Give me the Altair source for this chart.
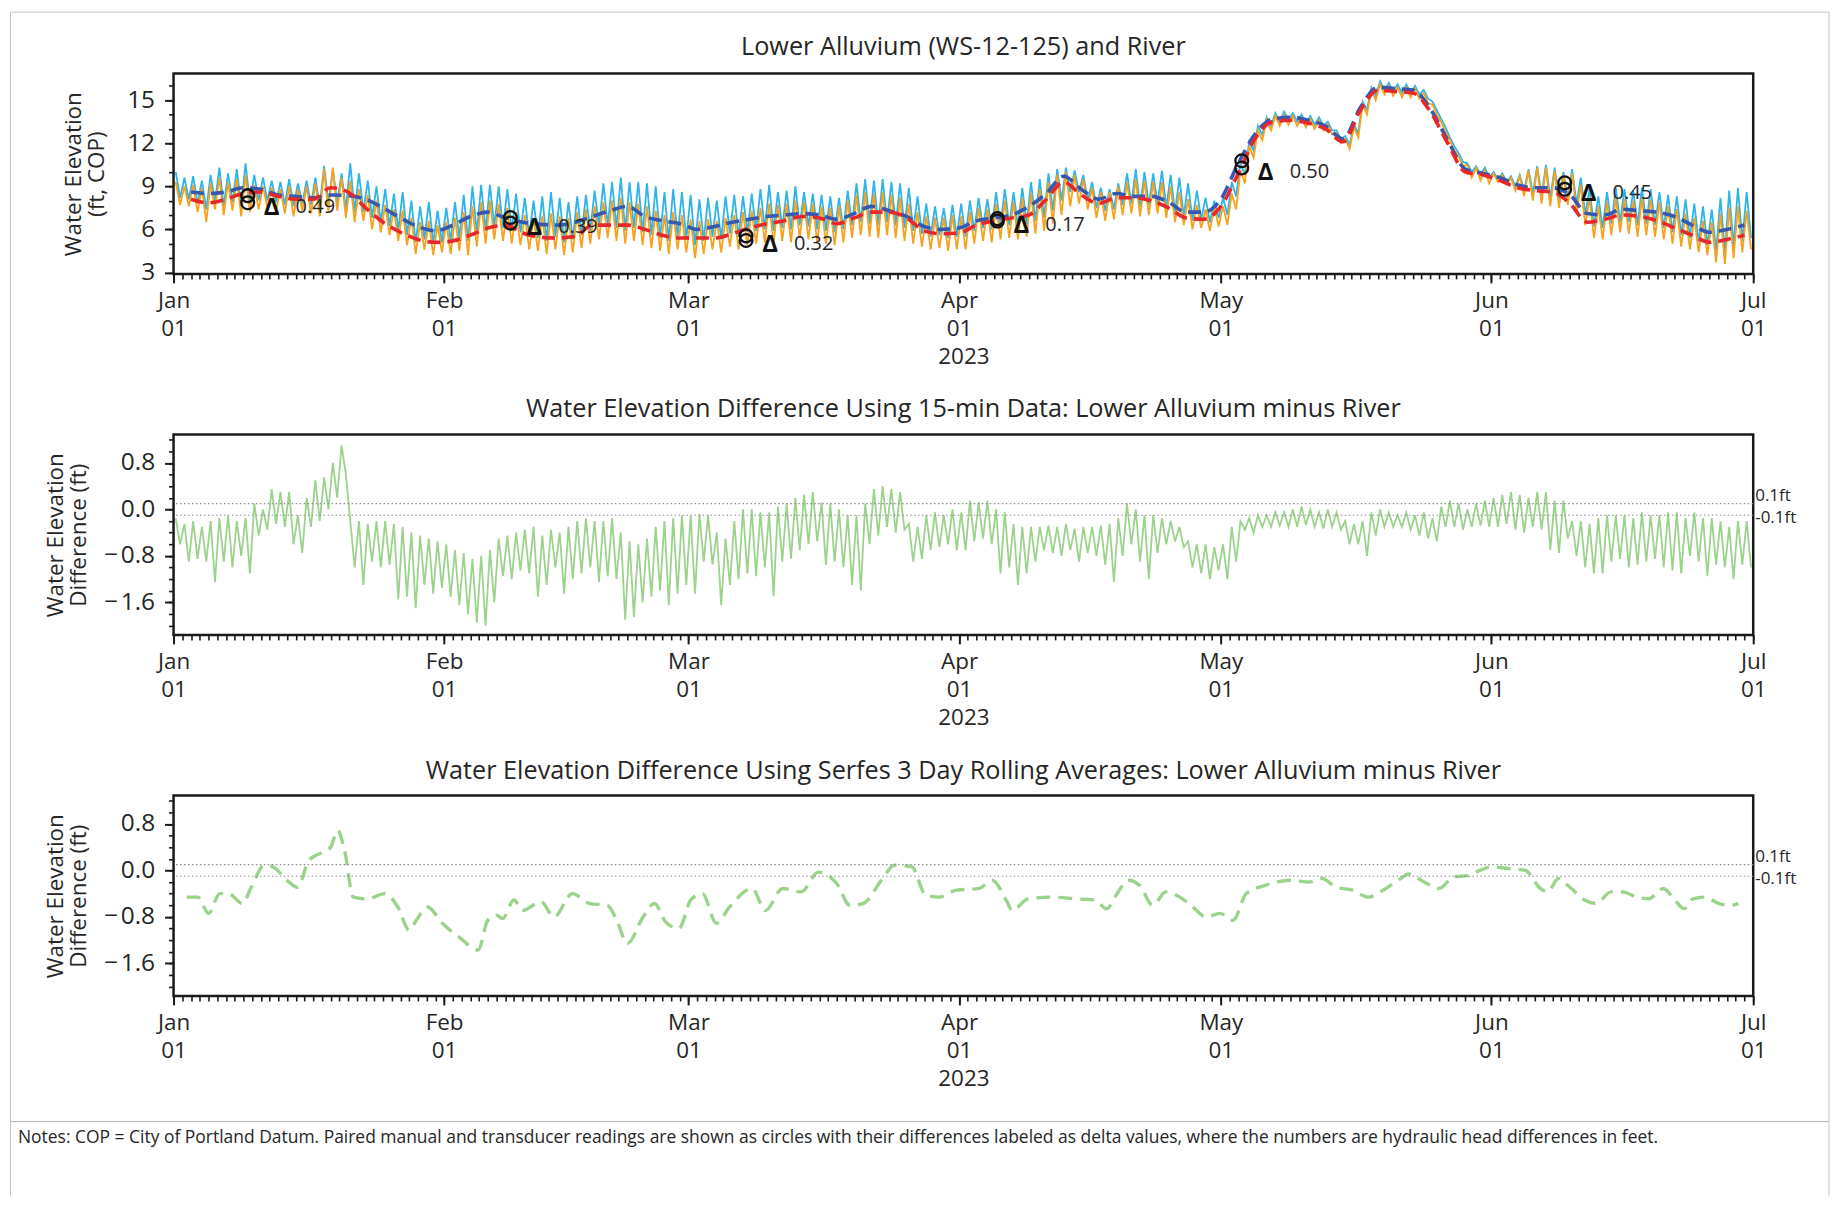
import json
import altair as alt
import pandas as pd

FONT = "Open Sans"
INK = "#262626"
FRAME = "#1a1a1a"
W, H = 1584, 201

MONTH_DAYS = [0, 31, 59, 90, 120, 151, 181]
MONTH_NAMES = ["Jan", "Feb", "Mar", "Apr", "May", "Jun", "Jul"]

# ---------------- Panel 1: 15-min envelopes (daily high / low), day 0 = Jan 1 ----------------
AL_HI = (
    [10.0, 9.6, 9.7, 9.4, 9.8, 10.3, 9.9, 10.2, 10.6, 9.8, 9.6, 9.4, 9.3, 9.5, 9.2, 9.4, 9.6, 10.4, 10.2, 9.9, 10.6, 9.9, 9.4, 9.0, 8.8, 8.5, 8.6, 8.0, 7.6, 7.9, 7.3]
    + [7.5, 7.9, 8.4, 9.0, 9.1, 9.1, 9.0, 8.8, 8.5, 8.2, 8.0, 8.3, 8.6, 8.2, 7.9, 8.3, 8.4, 8.7, 9.2, 9.3, 9.6, 9.3, 9.3, 9.2, 9.0, 8.6, 8.8, 8.6]
    + [8.4, 8.1, 8.2, 8.0, 8.3, 8.4, 8.3, 8.5, 8.8, 9.1, 8.6, 8.7, 9.0, 8.6, 8.5, 8.4, 8.3, 8.2, 8.7, 9.2, 9.5, 9.4, 9.5, 9.3, 9.2, 8.9, 8.3, 7.8, 7.6, 7.5, 7.7]
    + [7.8, 8.0, 8.2, 8.1, 8.6, 8.8, 8.6, 8.9, 9.3, 9.5, 9.9, 10.2, 10.3, 10.1, 9.8, 9.3, 8.9, 8.8, 9.2, 9.9, 10.2, 10.0, 9.9, 10.1, 9.8, 9.6, 9.2, 8.7, 8.2, 8.0]
    + [8.2, 9.3, 10.6, 12.1, 13.2, 13.8, 14.1, 14.2, 14.1, 14.0, 13.9, 13.8, 13.5, 12.9, 12.5, 13.3, 14.9, 15.9, 16.3, 16.2, 16.1, 16.1, 16.0, 15.7, 14.9, 13.7, 12.4, 11.3, 10.6, 10.4, 10.3]
    + [10.0, 9.9, 9.7, 9.8, 10.2, 10.4, 10.5, 10.3, 10.0, 10.2, 9.6, 8.8, 8.3, 8.6, 8.9, 8.8, 8.7, 8.9, 8.8, 8.6, 8.4, 8.3, 8.1, 7.8, 7.6, 7.4, 8.2, 8.7, 8.9, 8.6]
)
AL_LO = (
    [8.2, 8.1, 7.8, 7.4, 7.9, 7.6, 7.9, 7.6, 7.8, 8.0, 8.0, 7.9, 7.7, 7.6, 7.8, 7.7, 7.6, 7.8, 7.9, 7.4, 7.2, 7.2, 6.8, 6.5, 6.2, 5.9, 5.6, 5.1, 5.3, 5.0, 5.1]
    + [5.2, 5.4, 5.2, 5.7, 5.9, 6.2, 6.1, 5.9, 5.8, 5.5, 5.4, 5.2, 5.5, 5.1, 5.3, 5.6, 5.9, 6.2, 6.3, 6.1, 5.9, 6.1, 5.8, 5.6, 5.4, 5.2, 5.5, 5.3]
    + [4.9, 5.2, 5.5, 5.3, 5.7, 5.5, 5.8, 5.9, 6.0, 5.9, 6.1, 6.0, 6.3, 6.2, 6.0, 5.9, 5.8, 6.0, 6.3, 6.5, 6.4, 6.3, 6.5, 6.3, 6.1, 5.9, 5.7, 5.5, 5.6, 5.4, 5.5]
    + [5.5, 5.9, 6.1, 6.0, 6.2, 6.3, 6.2, 6.4, 6.6, 6.8, 7.3, 8.0, 8.6, 8.6, 8.0, 7.5, 7.3, 7.4, 7.7, 7.8, 7.6, 7.7, 7.8, 7.5, 7.2, 6.9, 6.6, 6.7, 6.5, 6.8]
    + [7.0, 8.3, 9.8, 11.5, 12.6, 13.2, 13.5, 13.6, 13.5, 13.4, 13.3, 13.2, 12.9, 12.3, 11.9, 12.7, 14.3, 15.3, 15.7, 15.6, 15.5, 15.5, 15.4, 15.1, 14.3, 13.1, 11.8, 10.7, 10.0, 9.8, 9.6]
    + [9.5, 9.3, 9.0, 8.7, 8.5, 8.3, 8.2, 8.1, 8.2, 7.8, 7.0, 6.2, 6.1, 6.4, 6.5, 6.5, 6.3, 6.4, 6.3, 6.1, 5.8, 5.6, 5.4, 5.1, 4.9, 4.5, 4.4, 4.8, 5.2, 5.4]
)
RV_HI = (
    [9.3, 9.0, 9.1, 8.9, 9.2, 9.6, 9.3, 9.5, 9.8, 9.1, 9.0, 8.9, 8.8, 9.0, 8.8, 9.0, 9.2, 10.2, 10.3, 9.6, 9.4, 8.8, 8.4, 8.0, 7.7, 7.4, 7.3, 6.8, 6.5, 6.6, 6.3]
    + [6.5, 6.8, 7.2, 7.6, 7.9, 8.0, 7.8, 7.5, 7.2, 7.0, 6.8, 6.9, 7.1, 6.9, 6.8, 7.2, 7.4, 7.6, 7.9, 8.0, 8.2, 7.9, 7.8, 7.6, 7.3, 7.0, 7.2, 7.0]
    + [6.7, 6.6, 6.7, 6.6, 6.8, 7.0, 7.2, 7.3, 7.5, 7.8, 7.7, 7.8, 8.0, 7.9, 7.8, 7.6, 7.5, 7.6, 8.0, 8.4, 8.6, 8.5, 8.6, 8.4, 8.2, 7.8, 7.2, 6.9, 6.8, 6.8, 7.0]
    + [6.9, 7.2, 7.5, 7.4, 7.8, 8.0, 7.9, 8.2, 8.5, 8.8, 9.3, 9.8, 10.0, 9.8, 9.5, 8.9, 8.6, 8.6, 9.0, 9.3, 9.5, 9.4, 9.3, 9.3, 9.0, 8.6, 8.1, 7.7, 7.4, 7.6]
    + [7.6, 8.5, 10.1, 11.8, 12.9, 13.6, 13.9, 14.0, 13.9, 13.8, 13.7, 13.6, 13.3, 12.7, 12.3, 13.1, 14.7, 15.7, 16.1, 16.0, 15.9, 15.9, 15.8, 15.5, 14.7, 13.5, 12.2, 11.1, 10.5, 10.3, 10.1]
    + [9.9, 9.8, 9.6, 9.7, 10.1, 10.3, 10.3, 10.1, 9.8, 9.9, 9.1, 8.2, 7.6, 7.9, 8.2, 8.1, 8.0, 8.2, 8.1, 7.9, 7.6, 7.4, 7.1, 6.8, 6.6, 6.5, 7.1, 7.5, 7.6, 7.3]
)
RV_LO = (
    [7.7, 7.6, 7.2, 6.5, 7.4, 7.0, 7.3, 6.9, 7.2, 7.4, 7.5, 7.3, 7.1, 6.9, 7.3, 7.1, 6.9, 7.2, 7.3, 6.8, 6.5, 6.6, 6.0, 5.8, 5.6, 5.2, 4.9, 4.3, 4.6, 4.2, 4.4]
    + [4.3, 4.5, 4.2, 4.8, 5.0, 5.3, 5.2, 5.0, 4.9, 4.6, 4.5, 4.3, 4.6, 4.2, 4.4, 4.7, 5.0, 5.3, 5.4, 5.2, 5.0, 5.2, 4.9, 4.7, 4.5, 4.3, 4.6, 4.4]
    + [4.0, 4.3, 4.6, 4.4, 4.8, 4.6, 4.9, 5.0, 5.1, 5.0, 5.2, 5.1, 5.4, 5.3, 5.1, 5.0, 4.9, 5.1, 5.4, 5.6, 5.5, 5.4, 5.6, 5.4, 5.2, 5.0, 4.8, 4.6, 4.7, 4.5, 4.6]
    + [4.6, 5.0, 5.2, 5.1, 5.3, 5.4, 5.3, 5.5, 5.7, 5.9, 6.4, 7.0, 7.6, 7.8, 7.4, 6.8, 6.6, 6.7, 7.0, 7.1, 6.9, 7.0, 7.1, 6.8, 6.5, 6.3, 6.0, 6.1, 5.9, 6.2]
    + [6.3, 7.4, 9.2, 11.0, 12.2, 12.9, 13.2, 13.3, 13.2, 13.1, 13.0, 12.9, 12.6, 12.0, 11.6, 12.4, 14.0, 15.0, 15.4, 15.3, 15.2, 15.2, 15.1, 14.8, 14.0, 12.8, 11.5, 10.4, 9.6, 9.4, 9.2]
    + [9.3, 9.1, 8.7, 8.3, 8.0, 7.8, 7.6, 7.5, 7.7, 7.2, 6.3, 5.4, 5.3, 5.6, 5.8, 5.7, 5.5, 5.6, 5.5, 5.3, 5.0, 4.8, 4.6, 4.4, 4.2, 3.7, 3.6, 4.0, 4.4, 4.6]
)

# ---------------- Panel 1: 3-day rolling averages (every 2 days from Jan 3) ----------------
ROLL_DAYS = list(range(2, 181, 2))
ROLL_WELL = [
    8.6, 8.5, 8.6, 8.9, 8.8, 8.4, 8.3, 8.2, 8.4, 8.35,
    8.1, 7.5, 6.8, 6.2, 5.9, 6.3, 6.9, 7.2, 6.8, 6.5,
    6.35, 6.3, 6.5, 6.9, 7.3, 7.6, 6.9, 6.6, 6.4, 6.0,
    6.2, 6.5, 6.7, 6.9, 7.0, 7.1, 7.0, 6.7, 7.1, 7.6,
    7.3, 6.9, 6.2, 6.0, 6.1, 6.6, 6.8, 7.0, 7.6, 8.5,
    9.7, 8.8, 8.1, 8.5, 8.3, 8.3, 7.9, 7.2, 7.2, 8.1,
    10.6, 12.7, 13.7, 13.8, 13.6, 13.2, 12.3, 14.5, 15.9, 15.8,
    15.7, 14.4, 12.2, 10.2, 9.9, 9.6, 9.1, 8.9, 8.9, 8.4,
    7.1, 7.0, 7.4, 7.3, 7.2, 6.9, 6.3, 5.8, 6.0, 6.3,
]
ROLL_RIVER = [
    8.1, 7.85, 8.1, 8.5, 8.6, 8.3, 8.1, 8.1, 8.9, 8.6,
    7.5, 6.5, 5.8, 5.3, 5.1, 5.2, 5.6, 6.1, 6.3, 5.75,
    5.45, 5.4, 5.5, 6.3, 6.3, 6.3, 6.0, 5.6, 5.4, 5.4,
    5.4, 5.7, 6.1, 6.4, 6.6, 6.9, 6.8, 6.4, 6.8, 7.2,
    7.2, 6.8, 5.9, 5.7, 5.75, 6.3, 6.6, 6.8, 7.0, 8.1,
    9.3, 8.4, 7.8, 8.2, 8.2, 8.0, 7.5, 6.8, 6.7, 7.6,
    9.9, 12.4, 13.5, 13.6, 13.4, 13.0, 12.1, 14.3, 15.7, 15.6,
    15.5, 14.2, 12.0, 10.0, 9.8, 9.4, 8.9, 8.7, 8.6, 7.8,
    6.5, 6.7, 7.0, 6.9, 6.6, 6.1, 5.6, 5.1, 5.3, 5.6,
]

# ---------------- Panel 1: paired manual readings ----------------
MANUAL_DAYS = [8.5, 38.6, 65.6, 94.4, 122.4, 159.4]
MANUAL_WELL = [8.35, 6.83, 5.55, 6.75, 10.78, 9.25]
MANUAL_RIVER = [7.86, 6.44, 5.23, 6.58, 10.28, 8.80]
DELTA_LABELS = ["0.49", "0.39", "0.32", "0.17", "0.50", "0.45"]

# ---------------- Panel 2: 15-min difference envelopes ----------------
DIFF_HI = (
    [-0.15, -0.25, -0.2, -0.3, -0.2, -0.15, -0.1, -0.2, -0.15, 0.1, 0.0, 0.35, 0.3, 0.3, -0.1, 0.2, 0.5, 0.55, 0.8, 1.1, -0.2, -0.2, -0.25, -0.2, -0.2, -0.25, -0.3, -0.4, -0.45, -0.5, -0.55]
    + [-0.6, -0.7, -0.75, -0.85, -0.8, -0.7, -0.5, -0.45, -0.4, -0.35, -0.3, -0.45, -0.35, -0.4, -0.3, -0.2, -0.15, -0.2, -0.2, -0.15, -0.4, -0.55, -0.6, -0.5, -0.3, -0.2, -0.15, -0.1]
    + [-0.1, -0.08, -0.1, -0.4, -0.5, -0.2, 0.0, 0.0, -0.05, -0.05, 0.05, 0.1, 0.2, 0.25, 0.3, 0.12, 0.1, 0.0, -0.1, -0.1, 0.1, 0.35, 0.4, 0.35, 0.3, -0.25, -0.3, -0.1, -0.05, -0.1, 0.0]
    + [-0.05, 0.15, 0.12, 0.15, 0.0, -0.05, -0.25, -0.3, -0.3, -0.3, -0.28, -0.3, -0.25, -0.33, -0.3, -0.3, -0.28, -0.25, -0.15, 0.1, 0.0, -0.1, -0.1, -0.15, -0.2, -0.3, -0.55, -0.6, -0.6, -0.65]
    + [-0.6, -0.3, -0.2, -0.15, -0.1, -0.1, -0.05, -0.05, 0.0, 0.05, 0.0, -0.05, 0.0, -0.05, -0.2, -0.25, -0.2, -0.05, 0.0, -0.05, -0.1, -0.05, -0.1, -0.05, -0.15, 0.05, 0.15, 0.1, 0.0, 0.1, 0.15]
    + [0.2, 0.25, 0.3, 0.25, 0.2, 0.3, 0.3, 0.15, 0.15, -0.2, -0.2, -0.25, -0.15, -0.1, -0.1, -0.1, -0.15, -0.05, -0.1, -0.1, -0.05, -0.05, -0.15, -0.05, -0.15, -0.15, -0.2, -0.3, -0.2, -0.2]
)
DIFF_LO = (
    [-0.6, -0.9, -0.85, -0.9, -1.25, -0.9, -1.0, -0.8, -1.1, -0.45, -0.35, -0.25, -0.3, -0.6, -0.75, -0.3, -0.2, 0.0, 0.2, 0.6, -1.0, -1.3, -0.9, -1.0, -0.95, -1.55, -1.5, -1.7, -1.3, -1.45, -1.35]
    + [-1.5, -1.65, -1.8, -1.95, -2.0, -1.6, -1.15, -1.2, -1.05, -1.1, -1.5, -1.3, -1.0, -1.45, -1.2, -1.1, -1.0, -1.25, -1.15, -1.2, -1.9, -1.85, -1.6, -1.5, -1.4, -1.65, -1.45, -1.3]
    + [-1.45, -0.9, -0.95, -1.65, -1.3, -1.2, -1.1, -1.15, -1.0, -1.5, -0.9, -0.85, -0.7, -0.6, -0.55, -0.95, -0.9, -1.0, -1.3, -1.4, -0.6, -0.45, -0.3, -0.4, -0.35, -0.9, -0.85, -0.7, -0.65, -0.6, -0.7]
    + [-0.7, -0.55, -0.5, -0.6, -1.1, -1.0, -1.3, -1.1, -0.9, -0.7, -0.75, -0.8, -0.7, -0.9, -0.75, -0.8, -0.95, -1.25, -0.8, -0.6, -0.9, -1.2, -0.75, -0.6, -0.55, -0.65, -1.0, -1.1, -1.2, -1.05]
    + [-1.2, -0.9, -0.35, -0.4, -0.3, -0.3, -0.28, -0.3, -0.3, -0.27, -0.3, -0.33, -0.3, -0.35, -0.6, -0.6, -0.8, -0.45, -0.3, -0.3, -0.3, -0.35, -0.45, -0.5, -0.55, -0.3, -0.3, -0.35, -0.3, -0.28, -0.3]
    + [-0.3, -0.25, -0.35, -0.4, -0.3, -0.35, -0.7, -0.75, -0.5, -0.8, -1.0, -1.1, -1.1, -0.9, -0.85, -1.0, -0.95, -0.9, -0.85, -1.0, -1.05, -1.1, -0.8, -0.9, -1.15, -0.95, -1.0, -1.2, -0.95, -1.0]
)

# ---------------- Panel 3: 3-day rolling difference ----------------
RD_DAYS = [
    1.5, 2.8, 4.0, 5.3, 6.3, 7.9, 8.9, 10.4, 11.4, 13.0,
    14.2, 15.5, 17.0, 18.0, 18.8, 19.6, 20.6, 22.2, 24.2, 25.7,
    27.0, 27.8, 29.1, 30.8, 32.9, 34.9, 36.0, 37.0, 37.7, 39.0,
    40.0, 42.1, 43.6, 45.7, 47.7, 49.7, 50.8, 52.0, 53.8, 55.1,
    56.4, 57.9, 59.3, 60.6, 62.2, 63.7, 66.3, 67.8, 69.8, 71.9,
    73.9, 76.0, 77.5, 79.0, 81.1, 82.6, 84.6, 86.2, 87.7, 89.7,
    92.3, 93.8, 95.4, 96.1, 97.9, 100.5, 103.5, 105.6, 106.9, 108.1,
    109.4, 110.7, 112.2, 113.7, 115.3, 116.8, 118.3, 119.9, 121.4, 122.9,
    125.0, 128.0, 130.1, 131.6, 133.2, 135.1, 136.9, 138.6, 140.3, 141.6,
    143.3, 145.0, 146.7, 148.4, 149.7, 151.0, 153.1, 154.9, 156.6, 157.4,
    158.7, 160.0, 161.7, 163.0, 164.7, 166.0, 167.7, 169.0, 170.7, 172.0,
    173.1, 174.1, 175.4, 177.1, 178.4, 179.3,
]
RD_VALS = [
    -0.46, -0.46, -0.74, -0.40, -0.40, -0.57, -0.29, 0.09, 0.06, -0.17,
    -0.29, 0.17, 0.31, 0.40, 0.69, 0.34, -0.46, -0.49, -0.40, -0.63,
    -1.03, -0.86, -0.63, -0.91, -1.17, -1.37, -0.86, -0.77, -0.83, -0.51,
    -0.69, -0.54, -0.80, -0.40, -0.57, -0.60, -0.86, -1.26, -0.80, -0.57,
    -0.89, -1.00, -0.50, -0.40, -0.91, -0.63, -0.31, -0.69, -0.31, -0.37,
    -0.03, -0.23, -0.60, -0.57, -0.17, 0.09, 0.06, -0.43, -0.46, -0.34,
    -0.31, -0.17, -0.51, -0.69, -0.49, -0.46, -0.49, -0.51, -0.66, -0.40,
    -0.17, -0.26, -0.60, -0.37, -0.46, -0.63, -0.80, -0.74, -0.86, -0.40,
    -0.26, -0.17, -0.20, -0.14, -0.29, -0.34, -0.46, -0.34, -0.17, -0.06,
    -0.20, -0.31, -0.11, -0.09, 0.00, 0.06, 0.03, 0.00, -0.31, -0.37,
    -0.14, -0.29, -0.51, -0.57, -0.37, -0.37, -0.46, -0.49, -0.31, -0.51,
    -0.66, -0.49, -0.46, -0.57, -0.60, -0.57,
]

THRESHOLDS = [0.1, -0.1]
THRESH_TEXT = ["0.1ft", "-0.1ft"]

TITLES = [
    "Lower Alluvium (WS-12-125) and River",
    "Water Elevation Difference Using 15-min Data: Lower Alluvium minus River",
    "Water Elevation Difference Using Serfes 3 Day Rolling Averages: Lower Alluvium minus River",
]
NOTES = ("Notes: COP = City of Portland Datum. Paired manual and transducer readings are shown as circles "
         "with their differences labeled as delta values, where the numbers are hydraulic head differences in feet.")

Y1_TICKS = [3, 6, 9, 12, 15]
Y1_MINOR = list(range(3, 17))
YD_TICKS = [-1.6, -0.8, 0.0, 0.8]
YD_MINOR = [-2.0, -1.8, -1.6, -1.4, -1.2, -1.0, -0.8, -0.6, -0.4, -0.2, 0.0, 0.2, 0.4, 0.6, 0.8, 1.0, 1.2]


def zigzag(hi, lo):
    rows = []
    for d, (h, l) in enumerate(zip(hi, lo)):
        rows.append({"day": d + 0.25, "val": h})
        rows.append({"day": d + 0.75, "val": l})
    return pd.DataFrame(rows)


ONE = pd.DataFrame({"k": [0]})
xs = alt.Scale(domain=[0, 181], nice=False, zero=False)
LABEL_EXPR = ("[" + json.dumps(MONTH_NAMES) + "[indexof(" + json.dumps(MONTH_DAYS)
              + ", datum.value)], '01']")
MINUS_EXPR = "(datum.value < 0 ? '\u2212\u200a' : '') + format(abs(datum.value), '.1f')"


def x_major():
    return alt.Axis(values=MONTH_DAYS, labelExpr=LABEL_EXPR, title="2023", orient="bottom",
                    tickSize=9, tickWidth=2, tickColor=FRAME, domain=False, grid=False,
                    labelFont=FONT, labelFontSize=22.5, labelColor=INK, labelPadding=7,
                    labelLineHeight=27.5, labelFlush=False, labelOverlap=False,
                    titleFont=FONT, titleFontSize=22.5, titleFontWeight="normal",
                    titleColor=INK, titlePadding=6)


def x_minor():
    return alt.Axis(values=list(range(0, 182)), labels=False, title=None, orient="bottom",
                    tickSize=5, tickWidth=1.6, tickColor=FRAME, domain=False, grid=False)


def y_major(values, expr, title, pad):
    return alt.Axis(values=values, labelExpr=expr, title=title, orient="left",
                    tickSize=9, tickWidth=2, tickColor=FRAME, domain=False, grid=False,
                    labelFont=FONT, labelFontSize=24.5, labelColor=INK, labelPadding=10,
                    titleFont=FONT, titleFontSize=22.5, titleFontWeight="normal",
                    titleColor=INK, titlePadding=pad, titleLineHeight=23)


def y_minor(values):
    return alt.Axis(values=values, labels=False, title=None, orient="left",
                    tickSize=5, tickWidth=1.6, tickColor=FRAME, domain=False, grid=False)


def title_mark(text, y):
    return alt.Chart(ONE).mark_text(text=text, font=FONT, fontSize=25.3, color=INK,
                                    align="center", baseline="middle").encode(
        x=alt.value(W / 2), y=alt.value(y))


def threshold_layers(ys):
    th = pd.DataFrame({"y": THRESHOLDS, "t": THRESH_TEXT})
    rules = alt.Chart(th).mark_rule(color="#8c8c8c", strokeWidth=1.1, strokeDash=[1.5, 2.5]).encode(
        y=alt.Y("y:Q", scale=ys, axis=None))
    up = alt.Chart(th.iloc[[0]]).mark_text(font=FONT, fontSize=17, color=INK, align="left",
                                           baseline="middle", dy=-8).encode(
        x=alt.value(W + 2), y=alt.Y("y:Q", scale=ys, axis=None), text="t:N")
    dn = alt.Chart(th.iloc[[1]]).mark_text(font=FONT, fontSize=17, color=INK, align="left",
                                           baseline="middle", dy=2.5).encode(
        x=alt.value(W + 2), y=alt.Y("y:Q", scale=ys, axis=None), text="t:N")
    return [rules, up, dn]


# ---------------- Panel 1 ----------------
ys1 = alt.Scale(domain=[2.9, 16.86], nice=False, zero=False)
well15 = zigzag(AL_HI, AL_LO)
river15 = zigzag(RV_HI, RV_LO)
roll = pd.DataFrame({"day": ROLL_DAYS, "well": ROLL_WELL, "river": ROLL_RIVER})
manual = pd.DataFrame({"day": MANUAL_DAYS, "well": MANUAL_WELL, "river": MANUAL_RIVER,
                       "label": DELTA_LABELS})

xn = alt.X("day:Q", scale=xs, axis=None)

p1_layers = [
    alt.Chart(well15).mark_line(color="#2db4ea", strokeWidth=1.8).encode(
        x=alt.X("day:Q", scale=xs, axis=x_major()),
        y=alt.Y("val:Q", scale=ys1, axis=y_major(Y1_TICKS, "format(datum.value, 'd')",
                                                ["Water Elevation", "(ft, COP)"], 18))),
    alt.Chart(river15).mark_line(color="#f7a11c", strokeWidth=1.8).encode(
        x=alt.X("day:Q", scale=xs, axis=x_minor()),
        y=alt.Y("val:Q", scale=ys1, axis=y_minor(Y1_MINOR))),
    alt.Chart(roll).mark_line(color="#3658b0", strokeWidth=3.6, strokeDash=[13, 7],
                              interpolate="monotone").encode(
        x=xn, y=alt.Y("well:Q", scale=ys1, axis=None)),
    alt.Chart(roll).mark_line(color="#e8272b", strokeWidth=3.6, strokeDash=[13, 7],
                              interpolate="monotone").encode(
        x=xn, y=alt.Y("river:Q", scale=ys1, axis=None)),
    alt.Chart(manual).mark_point(shape="circle", filled=False, size=165, strokeWidth=2.3,
                                 color="#111111", opacity=1).encode(
        x=xn, y=alt.Y("well:Q", scale=ys1, axis=None)),
    alt.Chart(manual).mark_point(shape="circle", filled=False, size=165, strokeWidth=2.3,
                                 color="#111111", opacity=1).encode(
        x=xn, y=alt.Y("river:Q", scale=ys1, axis=None)),
    alt.Chart(manual).mark_text(text="Δ", font=FONT, fontSize=24, fontWeight="bold",
                                color="#111111", dx=24, dy=5, baseline="middle").encode(
        x=xn, y=alt.Y("river:Q", scale=ys1, axis=None)),
    alt.Chart(manual).mark_text(font=FONT, fontSize=20, color=INK, align="left",
                                baseline="middle", dx=48, dy=4).encode(
        x=xn, y=alt.Y("river:Q", scale=ys1, axis=None), text="label:N"),
    title_mark(TITLES[0], -27),
    # outer page frame (decoration)
    alt.Chart(ONE).mark_rule(color="#c4c4c4", strokeWidth=1).encode(
        x=alt.value(-163.5), y=alt.value(-61.5), y2=alt.value(1125)),
    alt.Chart(ONE).mark_rule(color="#c4c4c4", strokeWidth=1).encode(
        x=alt.value(-163.5), x2=alt.value(1660), y=alt.value(-61.5)),
    alt.Chart(ONE).mark_rule(color="#c4c4c4", strokeWidth=1).encode(
        x=alt.value(1660), y=alt.value(-61.5), y2=alt.value(1125)),
]
p1 = alt.layer(*p1_layers).resolve_axis(x="independent", y="independent").properties(
    width=W, height=H)

# ---------------- Panel 2 ----------------
ysd = alt.Scale(domain=[-2.16, 1.29], nice=False, zero=False)
diff15 = zigzag(DIFF_HI, DIFF_LO)
p2_layers = [
    alt.Chart(diff15).mark_line(color="#9bd38c", strokeWidth=1.8).encode(
        x=alt.X("day:Q", scale=xs, axis=x_major()),
        y=alt.Y("val:Q", scale=ysd, axis=y_major(YD_TICKS, MINUS_EXPR,
                                                ["Water Elevation", "Difference (ft)"], 13))),
    alt.Chart(diff15).mark_line(opacity=0).encode(
        x=alt.X("day:Q", scale=xs, axis=x_minor()),
        y=alt.Y("val:Q", scale=ysd, axis=y_minor(YD_MINOR))),
] + threshold_layers(ysd) + [title_mark(TITLES[1], -26)]
p2 = alt.layer(*p2_layers).resolve_axis(x="independent", y="independent").properties(
    width=W, height=H)

# ---------------- Panel 3 ----------------
rdiff = pd.DataFrame({"day": RD_DAYS, "val": RD_VALS})
p3_layers = [
    alt.Chart(rdiff).mark_line(color="#9bd38c", strokeWidth=3.4, strokeDash=[14, 8],
                               interpolate="monotone").encode(
        x=alt.X("day:Q", scale=xs, axis=x_major()),
        y=alt.Y("val:Q", scale=ysd, axis=y_major(YD_TICKS, MINUS_EXPR,
                                                ["Water Elevation", "Difference (ft)"], 13))),
    alt.Chart(rdiff).mark_line(opacity=0).encode(
        x=alt.X("day:Q", scale=xs, axis=x_minor()),
        y=alt.Y("val:Q", scale=ysd, axis=y_minor(YD_MINOR))),
] + threshold_layers(ysd) + [
    title_mark(TITLES[2], -25),
    alt.Chart(ONE).mark_rule(color="#b4b4b4", strokeWidth=1).encode(
        x=alt.value(-163.5), x2=alt.value(1660), y=alt.value(327)),
    alt.Chart(ONE).mark_text(text=NOTES, font=FONT, fontSize=17.5, color=INK, align="left",
                             baseline="middle").encode(x=alt.value(-156), y=alt.value(343)),
]
p3 = alt.layer(*p3_layers).resolve_axis(x="independent", y="independent").properties(
    width=W, height=H)

chart = alt.vconcat(p1, p2, p3, spacing=161, bounds="flush",
                    padding={"left": 0, "top": 0, "right": 0, "bottom": 0}).configure(
    font=FONT, view=alt.ViewConfig(stroke=FRAME, strokeWidth=2.5))

chart.save("out.html", embed_options={"renderer": "svg", "actions": False})
